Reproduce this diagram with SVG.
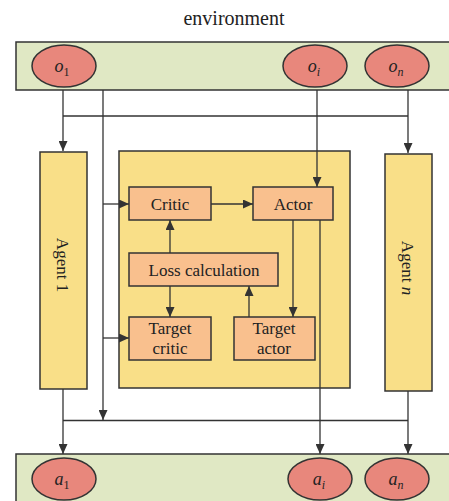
<svg xmlns="http://www.w3.org/2000/svg" width="449" height="501" viewBox="0 0 449 501">
<defs>
<marker id="ah" markerWidth="10" markerHeight="9" refX="10" refY="4.5" orient="auto" markerUnits="userSpaceOnUse">
<path d="M0,0 L10,4.5 L0,9 Z" fill="#333"/>
</marker>
<style>
.bar{fill:#e0e8c4;stroke:#333;stroke-width:1.5}
.obs{fill:#e8877c;stroke:#333;stroke-width:1.5}
.ag{fill:#f9df88;stroke:#333;stroke-width:1.5}
.bx{fill:#f9c08e;stroke:#333;stroke-width:1.5}
.ln{fill:none;stroke:#333;stroke-width:1.3}
.ar{fill:none;stroke:#333;stroke-width:1.3;marker-end:url(#ah)}
text{font-family:"Liberation Serif","Times New Roman",serif;fill:#222}
.t{font-size:17px;text-anchor:middle}
.v{font-size:18px;font-style:italic;text-anchor:middle}
.s{font-size:12px}
</style>
</defs>
<rect width="449" height="501" fill="#fff"/>
<text x="234" y="25" font-size="20" text-anchor="middle">environment</text>

<g id="env-top">
<rect class="bar" x="16" y="42" width="440" height="48"/>
</g>
<g id="o1"><ellipse class="obs" cx="64" cy="66" rx="32" ry="21"/><text class="v" x="62" y="72">o<tspan class="s" font-style="normal" dy="4">1</tspan></text></g>
<g id="oi"><ellipse class="obs" cx="315" cy="66" rx="32" ry="21"/><text class="v" x="314" y="72">o<tspan class="s" dy="4">i</tspan></text></g>
<g id="on"><ellipse class="obs" cx="397" cy="66" rx="32" ry="21"/><text class="v" x="396" y="72">o<tspan class="s" dy="4">n</tspan></text></g>

<g id="env-bottom">
<rect class="bar" x="16" y="454" width="440" height="60"/>
</g>
<g id="a1"><ellipse class="obs" cx="64" cy="479" rx="32" ry="21"/><text class="v" x="62" y="485">a<tspan class="s" font-style="normal" dy="4">1</tspan></text></g>
<g id="ai"><ellipse class="obs" cx="320" cy="479" rx="32" ry="21"/><text class="v" x="319" y="485">a<tspan class="s" dy="4">i</tspan></text></g>
<g id="an"><ellipse class="obs" cx="397" cy="479" rx="32" ry="21"/><text class="v" x="396" y="485">a<tspan class="s" dy="4">n</tspan></text></g>

<g id="agent1">
<rect class="ag" x="40" y="152" width="47" height="237"/>
<text class="t" transform="translate(57,265) rotate(90)">Agent 1</text>
</g>
<g id="agentn">
<rect class="ag" x="385" y="154" width="47" height="237"/>
<text class="t" transform="translate(402,268) rotate(90)">Agent <tspan font-style="italic">n</tspan></text>
</g>
<g id="agenti">
<rect class="ag" x="119" y="151" width="231" height="237"/>
</g>

<g id="critic"><rect class="bx" x="129" y="187" width="82" height="33"/><text class="t" x="170" y="210">Critic</text></g>
<g id="actor"><rect class="bx" x="253" y="187" width="80" height="33"/><text class="t" x="293" y="210">Actor</text></g>
<g id="loss"><rect class="bx" x="129" y="253" width="149" height="33"/><text class="t" x="204" y="276">Loss calculation</text></g>
<g id="tcritic"><rect class="bx" x="129" y="317" width="82" height="43"/><text class="t" x="170" y="334">Target</text><text class="t" x="170" y="354">critic</text></g>
<g id="tactor"><rect class="bx" x="234" y="317" width="81" height="43"/><text class="t" x="274" y="334">Target</text><text class="t" x="274" y="354">actor</text></g>

<g id="connectors">
<path class="ar" d="M63,90 V151"/>
<path class="ln" d="M63,116 H408"/>
<path class="ar" d="M408,90 V153"/>
<path class="ar" d="M103,90 V420"/>
<path class="ar" d="M103,204 H129"/>
<path class="ar" d="M103,338 H129"/>
<path class="ar" d="M317,90 V187"/>
<path class="ar" d="M211,204 H253"/>
<path class="ar" d="M170,253 V220"/>
<path class="ar" d="M170,286 V317"/>
<path class="ar" d="M249,317 V286"/>
<path class="ar" d="M293,220 V317"/>
<path class="ar" d="M320,220 V454"/>
<path class="ar" d="M63,389 V454"/>
<path class="ar" d="M408,391 V454"/>
<path class="ln" d="M63,420.5 H408"/>
</g>
</svg>
